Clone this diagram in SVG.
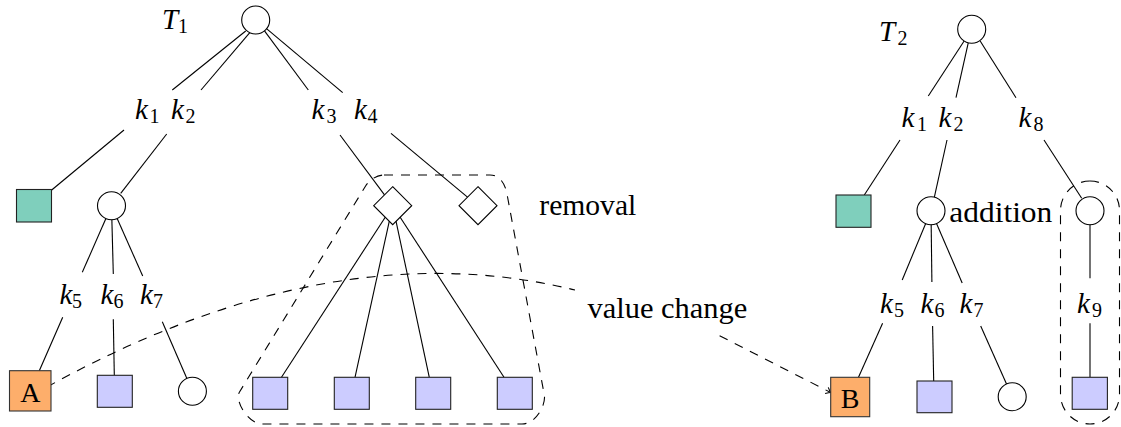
<svg xmlns="http://www.w3.org/2000/svg" width="1121" height="427" viewBox="0 0 1121 427" font-family="'Liberation Serif', 'Times New Roman', serif">
<style>
.ln{stroke:#000;stroke-width:1.1;fill:none}
.ds{stroke:#000;stroke-width:1.1;fill:none;stroke-dasharray:9 8}
.circ{fill:#fff;stroke:#000;stroke-width:1.1}
.teal{fill:#7fcfbc;stroke:#222;stroke-width:1.1}
.lav{fill:#ccccff;stroke:#222;stroke-width:1.1}
.org{fill:#fdae6b;stroke:#333;stroke-width:1.1}
.math{font-family:'Liberation Serif','Times New Roman',serif;font-style:italic;font-size:29px;fill:#000}
.sub{font-style:normal;font-size:20px}
.rm{font-family:'Liberation Serif','Times New Roman',serif;font-size:30px;fill:#000}
.lt{font-family:'Liberation Serif','Times New Roman',serif;font-size:28px;fill:#000;text-anchor:middle}
</style>
<defs>
<marker id="tip" viewBox="-6 -5 7 10" refX="0" refY="0" markerWidth="7" markerHeight="10" markerUnits="userSpaceOnUse" orient="auto">
<path d="M-4.5,-3.5 Q-1.5,-0.8 0,0 Q-1.5,0.8 -4.5,3.5" fill="none" stroke="#000" stroke-width="1.1"/>
</marker>
</defs>
<rect width="1121" height="427" fill="#fff"/>

<g id="connectors">
<line class="ln" x1="245.7" y1="31" x2="172.3" y2="90"/>
<line class="ln" x1="250" y1="32.3" x2="201" y2="90"/>
<line class="ln" x1="264.3" y1="30.6" x2="308.3" y2="90"/>
<line class="ln" x1="266.5" y1="28.6" x2="342.7" y2="92.7"/>
<line class="ln" x1="124" y1="130" x2="51.7" y2="190"/>
<line class="ln" x1="166.7" y1="134" x2="120.7" y2="193.3"/>
<line class="ln" x1="340" y1="135" x2="384.5" y2="194.8"/>
<line class="ln" x1="391" y1="133.3" x2="467.5" y2="197.2"/>
<line class="ln" x1="392.7" y1="205.7" x2="281" y2="378"/>
<line class="ln" x1="392.7" y1="205.7" x2="355" y2="377.3"/>
<line class="ln" x1="392.7" y1="205.7" x2="429.3" y2="377.3"/>
<line class="ln" x1="392.7" y1="205.7" x2="504" y2="377.3"/>
<line class="ln" x1="111.5" y1="205.8" x2="82.3" y2="272.3"/>
<line class="ln" x1="111.5" y1="205.8" x2="113.3" y2="274"/>
<line class="ln" x1="111.5" y1="205.8" x2="142.7" y2="276"/>
<line class="ln" x1="62.7" y1="317.3" x2="39.3" y2="370.7"/>
<line class="ln" x1="113.3" y1="319.3" x2="114.3" y2="375.3"/>
<line class="ln" x1="162.3" y1="321.7" x2="192.4" y2="391.2"/>

<line class="ln" x1="964.3" y1="40.7" x2="928.3" y2="96"/>
<line class="ln" x1="968.3" y1="42.7" x2="956" y2="97.7"/>
<line class="ln" x1="980" y1="40.7" x2="1016" y2="97.7"/>
<line class="ln" x1="900" y1="140" x2="864.3" y2="195"/>
<line class="ln" x1="947" y1="140" x2="934.3" y2="197.3"/>
<line class="ln" x1="1044" y1="140" x2="1081.7" y2="198.3"/>
<line class="ln" x1="931" y1="210.7" x2="902.2" y2="280"/>
<line class="ln" x1="931" y1="210.7" x2="931.9" y2="282"/>
<line class="ln" x1="931" y1="210.7" x2="962.2" y2="283"/>
<line class="ln" x1="882.6" y1="323.3" x2="858.5" y2="377.3"/>
<line class="ln" x1="932.6" y1="326" x2="933.7" y2="381"/>
<line class="ln" x1="980.7" y1="326" x2="1012.2" y2="396.7"/>
<line class="ln" x1="1090" y1="210.7" x2="1090" y2="278.3"/>
<line class="ln" x1="1090" y1="323.3" x2="1090" y2="377.3"/>
</g>

<g id="annotations">
<path id="removal-region" class="ds" d="M384,175 L490,175 C500,175 505.2,184.2 507,194 L544.3,395 C546.1,404.8 536,424 522,424 L262,424 C248,424 234.3,400.5 239.5,392 L365.6,186 C368.7,180.9 376,175 384,175 Z"/>
<rect id="addition-region" class="ds" x="1060.5" y="181" width="59" height="243" rx="29.5" ry="29.5"/>
<path id="value-curve" class="ds" d="M47,387 Q330,230 575,290"/>
<line id="value-arrow" class="ds" x1="719.6" y1="335.7" x2="830.7" y2="392.5" marker-end="url(#tip)"/>
<text class="rm" x="539.3" y="215" textLength="97" lengthAdjust="spacingAndGlyphs">removal</text>
<text class="rm" x="949.3" y="221.7" textLength="103" lengthAdjust="spacingAndGlyphs">addition</text>
<text class="rm" x="587.4" y="318.3" textLength="160" lengthAdjust="spacingAndGlyphs">value change</text>
</g>

<g id="t1-title"><text class="math" x="162" y="29.3">T<tspan class="sub" x="178" dy="4">1</tspan></text></g>
<g id="t1-root"><circle class="circ" cx="255.7" cy="20" r="14"/></g>
<g id="t1-k1"><text class="math" x="135" y="119">k<tspan class="sub" x="149.5" dy="4">1</tspan></text></g>
<g id="t1-k2"><text class="math" x="171" y="119">k<tspan class="sub" x="185.5" dy="4">2</tspan></text></g>
<g id="t1-k3"><text class="math" x="311.5" y="119">k<tspan class="sub" x="326.5" dy="4">3</tspan></text></g>
<g id="t1-k4"><text class="math" x="354" y="119">k<tspan class="sub" x="367.5" dy="4">4</tspan></text></g>
<g id="t1-leaf1"><rect class="teal" x="16.5" y="189.5" width="35" height="32.5"/></g>
<g id="t1-n2"><circle class="circ" cx="111.5" cy="205.8" r="14"/></g>
<g id="t1-d1"><polygon class="circ" points="392.7,186.7 411.7,205.7 392.7,224.7 373.7,205.7"/></g>
<g id="t1-d2"><polygon class="circ" points="478,186.7 497,205.7 478,224.7 459,205.7"/></g>
<g id="t1-k5"><text class="math" x="59.5" y="304">k<tspan class="sub" x="72" dy="4">5</tspan></text></g>
<g id="t1-k6"><text class="math" x="100.5" y="304">k<tspan class="sub" x="113.5" dy="4">6</tspan></text></g>
<g id="t1-k7"><text class="math" x="140" y="304">k<tspan class="sub" x="153" dy="4">7</tspan></text></g>
<g id="t1-A"><rect class="org" x="9.5" y="370.7" width="41.5" height="40.3"/><text class="lt" x="30.3" y="401.7">A</text></g>
<g id="t1-leaf6"><rect class="lav" x="97.3" y="375.3" width="35" height="32"/></g>
<g id="t1-n7"><circle class="circ" cx="192.4" cy="391.2" r="14"/></g>
<g id="t1-s1"><rect class="lav" x="252.7" y="377.3" width="35" height="32"/></g>
<g id="t1-s2"><rect class="lav" x="334.3" y="377.3" width="35" height="32"/></g>
<g id="t1-s3"><rect class="lav" x="415.7" y="377.3" width="35" height="32"/></g>
<g id="t1-s4"><rect class="lav" x="497.3" y="377.3" width="35" height="32"/></g>

<g id="t2-title"><text class="math" x="879" y="40.7">T<tspan class="sub" x="897.5" dy="4">2</tspan></text></g>
<g id="t2-root"><circle class="circ" cx="971.7" cy="29.3" r="14"/></g>
<g id="t2-k1"><text class="math" x="901.5" y="127.3">k<tspan class="sub" x="917" dy="4">1</tspan></text></g>
<g id="t2-k2"><text class="math" x="938.5" y="127.3">k<tspan class="sub" x="953.5" dy="4">2</tspan></text></g>
<g id="t2-k8"><text class="math" x="1018.5" y="127.3">k<tspan class="sub" x="1033.5" dy="4">8</tspan></text></g>
<g id="t2-leaf1"><rect class="teal" x="836" y="195" width="35" height="32.3"/></g>
<g id="t2-n2"><circle class="circ" cx="931" cy="210.7" r="14"/></g>
<g id="t2-n8"><circle class="circ" cx="1090" cy="210.7" r="14"/></g>
<g id="t2-k5"><text class="math" x="880" y="313">k<tspan class="sub" x="894" dy="4">5</tspan></text></g>
<g id="t2-k6"><text class="math" x="920.5" y="313">k<tspan class="sub" x="934.5" dy="4">6</tspan></text></g>
<g id="t2-k7"><text class="math" x="959.5" y="313">k<tspan class="sub" x="973.5" dy="4">7</tspan></text></g>
<g id="t2-k9"><text class="math" x="1077" y="313">k<tspan class="sub" x="1092" dy="4">9</tspan></text></g>
<g id="t2-B"><rect class="org" x="830.7" y="377.3" width="39" height="39.4"/><text class="lt" x="850" y="407.7">B</text></g>
<g id="t2-leaf6"><rect class="lav" x="917" y="381" width="35" height="31.7"/></g>
<g id="t2-n7"><circle class="circ" cx="1012.2" cy="396.7" r="14"/></g>
<g id="t2-leaf9"><rect class="lav" x="1072.2" y="377.3" width="35.2" height="32"/></g>
</svg>
